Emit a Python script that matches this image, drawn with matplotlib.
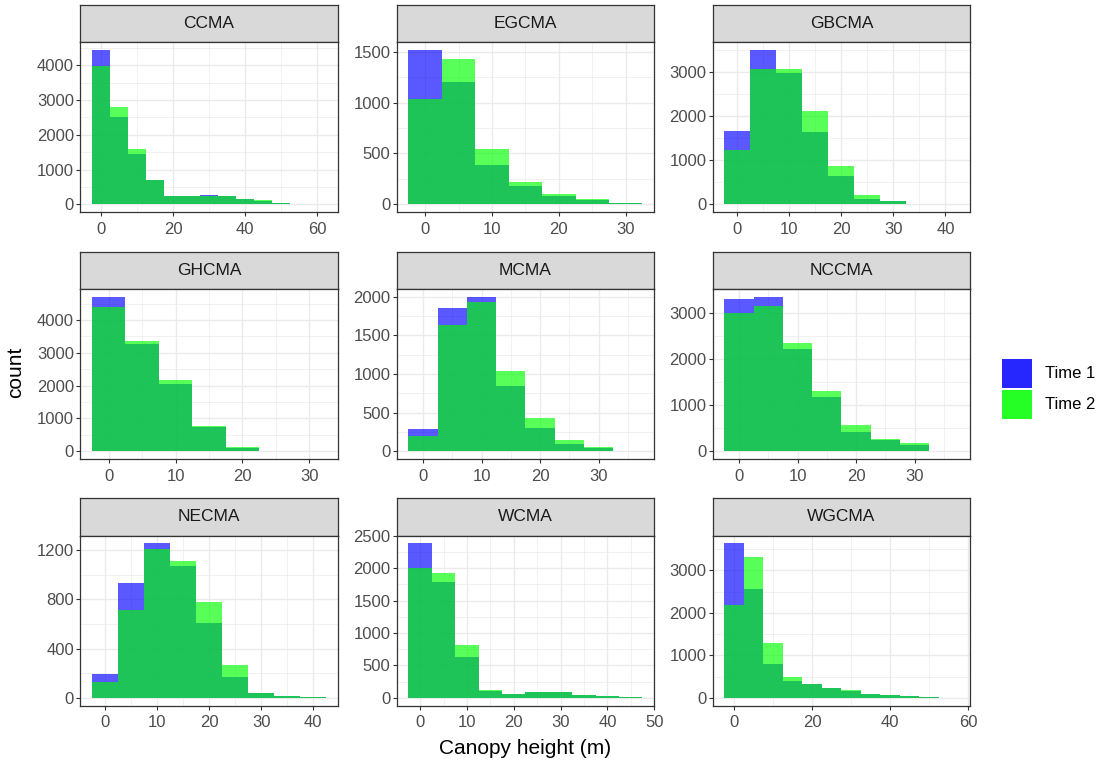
import numpy as np
import matplotlib.pyplot as plt
from matplotlib.patches import Rectangle
from matplotlib.ticker import MultipleLocator

plt.rcParams["font.family"] = ["Liberation Sans", "DejaVu Sans"]

# ── Histogram counts per catchment (bin width 5 m, first bin centred on 0) ──
BIN_WIDTH = 5

regions = ["CCMA", "EGCMA", "GBCMA",
           "GHCMA", "MCMA", "NCCMA",
           "NECMA", "WCMA", "WGCMA"]

ccma_t1  = [4450, 2510, 1435, 700, 240, 240, 275, 230, 150, 85, 40, 8, 3]
ccma_t2  = [3980, 2810, 1600, 710, 240, 235, 245, 235, 155, 115, 40, 10, 3]
egcma_t1 = [1520, 1200, 390, 175, 80, 40, 12]
egcma_t2 = [1040, 1430, 545, 223, 105, 48, 12]
gbcma_t1 = [1660, 3500, 2980, 1630, 640, 125, 65, 10, 3]
gbcma_t2 = [1240, 3060, 3070, 2110, 865, 210, 65, 12, 4]
ghcma_t1 = [4710, 3260, 2040, 740, 110, 10, 3]
ghcma_t2 = [4400, 3360, 2160, 760, 130, 12, 3]
mcma_t1  = [285, 1860, 2000, 845, 305, 100, 45, 3]
mcma_t2  = [200, 1640, 1930, 1040, 430, 145, 60, 4]
nccma_t1 = [3300, 3360, 2220, 1190, 420, 255, 130, 4]
nccma_t2 = [3000, 3160, 2350, 1310, 570, 260, 180, 5]
necma_t1 = [190, 935, 1255, 1070, 605, 170, 40, 12, 5]
necma_t2 = [125, 715, 1210, 1110, 780, 270, 40, 12, 10]
wcma_t1  = [2385, 1780, 630, 105, 60, 90, 90, 45, 25, 15]
wcma_t2  = [2010, 1930, 820, 125, 60, 90, 88, 45, 25, 15]
wgcma_t1 = [3640, 2560, 795, 390, 320, 230, 170, 100, 60, 35, 15, 4]
wgcma_t2 = [2180, 3320, 1300, 500, 335, 240, 175, 100, 60, 40, 25, 5]

time1 = dict(zip(regions, [ccma_t1, egcma_t1, gbcma_t1, ghcma_t1, mcma_t1,
                           nccma_t1, necma_t1, wcma_t1, wgcma_t1]))
time2 = dict(zip(regions, [ccma_t2, egcma_t2, gbcma_t2, ghcma_t2, mcma_t2,
                           nccma_t2, necma_t2, wcma_t2, wgcma_t2]))

# major break spacing (x, y) for each facet
breaks = {
    "CCMA": (20, 1000), "EGCMA": (10, 500), "GBCMA": (10, 1000),
    "GHCMA": (10, 1000), "MCMA": (10, 500), "NCCMA": (10, 1000),
    "NECMA": (10, 400), "WCMA": (10, 500), "WGCMA": (20, 1000),
}

series_labels = ["Time 1", "Time 2"]

# ── Styling ──────────────────────────────────────────────────────────────────
BLUE, GREEN, ALPHA = "#0000FF", "#00FF00", 0.65
GRID = "#EBEBEB"
DARK = "#333333"

W, H = 1103, 767
fig = plt.figure(figsize=(W / 100, H / 100), dpi=100)

col_left = [80.3, 396.7, 712.7]
row_top = [4.5, 251.5, 498.0]
panel_w, panel_h, strip_h = 257.5, 170.0, 37.5


def fig_box(x, y_top, w, h):
    return [x / W, 1 - (y_top + h) / H, w / W, h / H]


def draw_panel(name, col, row):
    x0, y0 = col_left[col], row_top[row]
    sax = fig.add_axes(fig_box(x0, y0, panel_w, strip_h))
    ax = fig.add_axes(fig_box(x0, y0 + strip_h, panel_w, panel_h))

    # facet strip
    sax.set_facecolor("#D9D9D9")
    sax.set_xticks([])
    sax.set_yticks([])
    for s in sax.spines.values():
        s.set_color(DARK)
        s.set_linewidth(0.9)
    sax.text(0.5, 0.5, name, ha="center", va="center",
             fontsize=12.5, color="#1A1A1A", transform=sax.transAxes)

    t1 = np.array(time1[name])
    t2 = np.array(time2[name])
    centers = np.arange(len(t1)) * BIN_WIDTH
    ax.bar(centers, t1, width=BIN_WIDTH, color=BLUE, alpha=ALPHA, linewidth=0)
    ax.bar(centers, t2, width=BIN_WIDTH, color=GREEN, alpha=ALPHA, linewidth=0)

    # ggplot-style 5% expansion around the data range
    lo, hi = centers[0] - BIN_WIDTH / 2, centers[-1] + BIN_WIDTH / 2
    r = hi - lo
    ax.set_xlim(lo - 0.05 * r, hi + 0.05 * r)
    ymax = max(t1.max(), t2.max())
    ax.set_ylim(-0.05 * ymax, 1.05 * ymax)

    xs, ys = breaks[name]
    ax.xaxis.set_major_locator(MultipleLocator(xs))
    ax.xaxis.set_minor_locator(MultipleLocator(xs / 2))
    ax.yaxis.set_major_locator(MultipleLocator(ys))
    ax.yaxis.set_minor_locator(MultipleLocator(ys / 2))

    ax.set_axisbelow(True)
    ax.grid(which="major", color=GRID, linewidth=1.0)
    ax.grid(which="minor", color=GRID, linewidth=0.5)
    ax.tick_params(which="minor", length=0)
    ax.tick_params(which="major", labelsize=12, labelcolor="#4D4D4D",
                   color=DARK, length=3, width=0.8)
    ax.tick_params(axis="x", pad=4)
    ax.tick_params(axis="y", pad=1.5)
    for s in ax.spines.values():
        s.set_color(DARK)
        s.set_linewidth(0.9)


for i, name in enumerate(regions):
    draw_panel(name, i % 3, i // 3)

# axis titles
fig.text(525.5 / W, 1 - 748 / H, "Canopy height (m)", ha="center", va="center",
         fontsize=15)
fig.text(15.5 / W, 1 - 372 / H, "count", ha="center", va="center",
         rotation=90, fontsize=15)

# legend
for k, (lab, col) in enumerate(zip(series_labels, [BLUE, GREEN])):
    y_top = 359 + k * 31
    fig.add_artist(Rectangle((1001.7 / W, 1 - (y_top + 28.5) / H),
                             30.6 / W, 28.5 / H, transform=fig.transFigure,
                             facecolor=col, alpha=0.85, linewidth=0))
    fig.text(1045 / W, 1 - (y_top + 14.5) / H, lab, ha="left", va="center",
             fontsize=12)

fig.savefig("out.png", dpi=100)
